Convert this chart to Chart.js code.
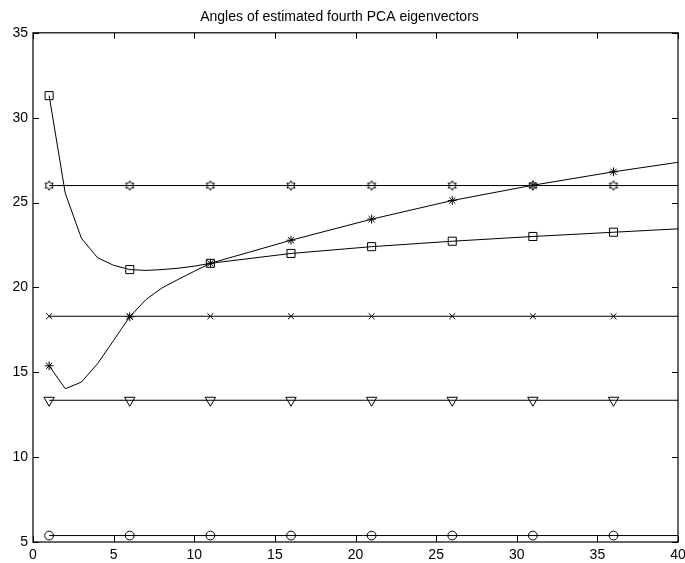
<!DOCTYPE html>
<html>
<head>
<meta charset="utf-8">
<title>Angles of estimated fourth PCA eigenvectors</title>
<script src="https://cdn.jsdelivr.net/npm/chart.js@4.4.1/dist/chart.umd.min.js"></script>
<style>
  html, body { margin: 0; padding: 0; background: #fff; }
  #wrap { position: relative; width: 685px; height: 563px; }
</style>
</head>
<body>
<div id="wrap"><canvas id="chart"></canvas></div>
<script>
// x positions where the two estimated curves are sampled
const curveX = [1, 2, 3, 4, 5, 6, 7, 8, 9, 10, 11, 16, 21, 26, 31, 36, 40];
const squareCurve = [31.3, 25.55, 22.9, 21.75, 21.3, 21.05, 21.0, 21.05, 21.13, 21.25, 21.42, 22.0, 22.4, 22.72, 23.0, 23.25, 23.45];
const starCurve = [15.38, 14.03, 14.42, 15.5, 16.88, 18.27, 19.28, 19.97, 20.47, 20.95, 21.42, 22.78, 24.02, 25.12, 26.02, 26.81, 27.37];

// marker positions and constant reference levels
const markerX = [1, 6, 11, 16, 21, 26, 31, 36];
const flatX = [1, 40];
const hexagramLevel = 26.0;
const crossLevel = 18.3;
const triangleLevel = 13.35;
const circleLevel = 5.38;

const xTicks = [0, 5, 10, 15, 20, 25, 30, 35, 40];
const yTicks = [5, 10, 15, 20, 25, 30, 35];

const font = { family: "'Liberation Sans', Arial, Helvetica, sans-serif", size: 14 };

// six pointed star marker, drawn once on a small canvas
const hexagram = document.createElement('canvas');
hexagram.width = 12;
hexagram.height = 12;
(function () {
  const g = hexagram.getContext('2d');
  const R = 4.7, r = R / Math.sqrt(3);
  g.beginPath();
  for (let k = 0; k < 12; k++) {
    const a = -Math.PI / 2 + k * Math.PI / 6;
    const rad = k % 2 === 0 ? R : r;
    const px = 6 + rad * Math.cos(a), py = 6 + rad * Math.sin(a);
    if (k === 0) g.moveTo(px, py); else g.lineTo(px, py);
  }
  g.closePath();
  g.strokeStyle = '#000';
  g.lineWidth = 1;
  g.stroke();
})();

const pts = (xs, ys) => xs.map((x, i) => ({ x: x, y: ys[i] }));
const flat = (level) => flatX.map(x => ({ x: x, y: level }));
const flatMarks = (level) => markerX.map(x => ({ x: x, y: level }));
const curveMarks = (ys) => markerX.map(x => ({ x: x, y: ys[curveX.indexOf(x)] }));

function lineSet(data) {
  return { data: data, borderColor: '#000', borderWidth: 1, pointRadius: 0, tension: 0, fill: false };
}
function markSet(data, style, radius, rotation) {
  return {
    data: data, showLine: false, pointStyle: style, pointRadius: radius, pointRotation: rotation || 0,
    pointBorderColor: '#000', pointBackgroundColor: 'rgba(0,0,0,0)', pointBorderWidth: 1
  };
}

// box around the plot with ticks pointing inward on all four sides
const boxTicks = {
  id: 'boxTicks',
  afterDatasetsDraw(chart) {
    const { ctx, chartArea: a, scales } = chart;
    const len = 6;
    ctx.save();
    ctx.strokeStyle = '#000';
    ctx.lineWidth = 1.2;
    ctx.strokeRect(a.left, a.top, a.right - a.left, a.bottom - a.top);
    ctx.lineWidth = 1;
    ctx.beginPath();
    scales.x.ticks.forEach(t => {
      const px = Math.round(scales.x.getPixelForValue(t.value)) + 0.5;
      ctx.moveTo(px, a.bottom); ctx.lineTo(px, a.bottom - len);
      ctx.moveTo(px, a.top); ctx.lineTo(px, a.top + len);
    });
    scales.y.ticks.forEach(t => {
      const py = Math.round(scales.y.getPixelForValue(t.value)) + 0.5;
      ctx.moveTo(a.left, py); ctx.lineTo(a.left + len, py);
      ctx.moveTo(a.right, py); ctx.lineTo(a.right - len, py);
    });
    ctx.stroke();
    ctx.restore();
  }
};

new Chart(document.getElementById('chart'), {
  type: 'line',
  data: {
    datasets: [
      lineSet(flat(hexagramLevel)),
      lineSet(flat(crossLevel)),
      lineSet(flat(triangleLevel)),
      lineSet(flat(circleLevel)),
      lineSet(pts(curveX, squareCurve)),
      lineSet(pts(curveX, starCurve)),
      markSet(flatMarks(hexagramLevel), hexagram, 5),
      markSet(flatMarks(crossLevel), 'crossRot', 4.2),
      markSet(flatMarks(triangleLevel), 'triangle', 6, 180),
      markSet(flatMarks(circleLevel), 'circle', 4.4),
      markSet(curveMarks(squareCurve), 'rect', 5.7),
      markSet(curveMarks(starCurve), 'star', 4.4)
    ]
  },
  options: {
    responsive: true,
    maintainAspectRatio: false,
    animation: false,
    events: [],
    layout: { padding: { left: 0, right: 6, top: 0, bottom: 0 } },
    plugins: {
      legend: { display: false },
      tooltip: { enabled: false },
      title: {
        display: true,
        text: 'Angles of estimated fourth PCA eigenvectors',
        color: '#000',
        font: { family: font.family, size: 14, weight: 'normal' },
        padding: { top: 9, bottom: 7 }
      }
    },
    scales: {
      x: {
        type: 'linear',
        min: 0,
        max: 40,
        afterBuildTicks: (s) => { s.ticks = xTicks.map(v => ({ value: v })); },
        afterFit: (s) => { s.height = 21; s.paddingLeft = 0; s.paddingRight = 0; },
        grid: { display: false, drawTicks: false },
        border: { display: false },
        ticks: { color: '#000', font: font, padding: 5, maxRotation: 0 }
      },
      y: {
        type: 'linear',
        min: 5,
        max: 35,
        afterBuildTicks: (s) => { s.ticks = yTicks.map(v => ({ value: v })); },
        afterFit: (s) => { s.width = 33; },
        grid: { display: false, drawTicks: false },
        border: { display: false },
        ticks: { color: '#000', font: font, padding: 5 }
      }
    }
  },
  plugins: [boxTicks]
});
</script>
</body>
</html>
